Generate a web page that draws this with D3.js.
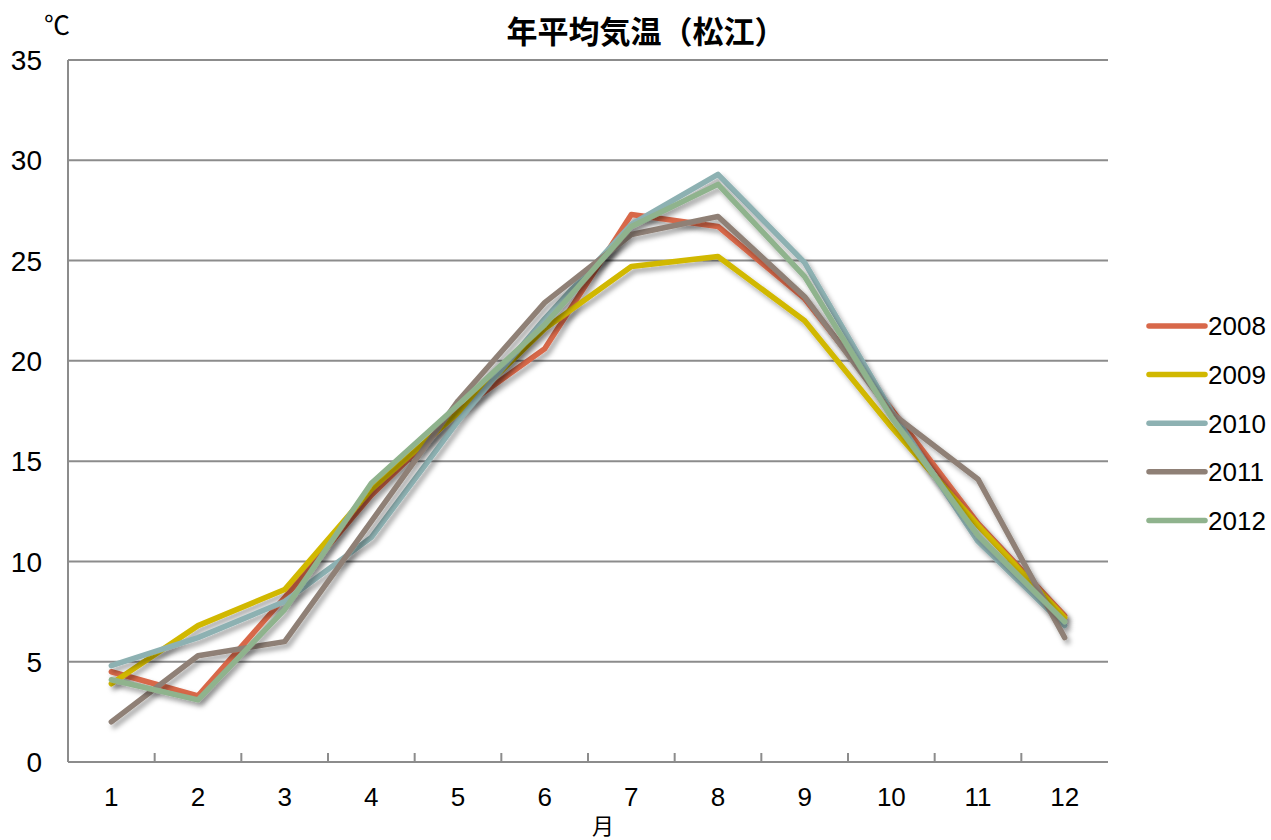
<!DOCTYPE html>
<html>
<head>
<meta charset="utf-8">
<script src="https://cdn.jsdelivr.net/npm/d3@7"></script>
<style>
  html, body { margin: 0; padding: 0; background: #fff; }
  svg { display: block; }
  .num { font-family: "Liberation Sans Narrow", "Liberation Sans", sans-serif; fill: #000; }
</style>
</head>
<body>
<svg id="chart" width="1271" height="840"></svg>
<script>
// Monthly mean temperature, Matsue (℃)
const months = ["1", "2", "3", "4", "5", "6", "7", "8", "9", "10", "11", "12"];
const years = ["2008", "2009", "2010", "2011", "2012"];
const temps2008 = [4.5, 3.3, 8.2, 13.3, 17.5, 20.6, 27.3, 26.7, 23.1, 17.6, 11.9, 7.3];
const temps2009 = [3.9, 6.8, 8.6, 13.6, 17.4, 21.6, 24.7, 25.2, 22.0, 16.7, 11.8, 7.2];
const temps2010 = [4.8, 6.2, 8.0, 11.2, 17.0, 22.1, 26.8, 29.3, 24.9, 17.5, 11.0, 6.8];
const temps2011 = [2.0, 5.3, 6.0, 12.0, 18.0, 22.9, 26.3, 27.2, 23.2, 17.4, 14.1, 6.2];
const temps2012 = [4.1, 3.1, 7.6, 13.9, 17.8, 21.8, 26.7, 28.8, 24.2, 17.2, 11.3, 7.0];
const yTicks = [0, 5, 10, 15, 20, 25, 30, 35];
const seriesColors = ["#d8684a", "#d1b800", "#8db1b2", "#8f8076", "#8fb38d"];

const series = years.map((y, i) => ({
  year: y,
  color: seriesColors[i],
  values: [temps2008, temps2009, temps2010, temps2011, temps2012][i]
}));

const svg = d3.select("#chart");
const plot = { left: 68, right: 1108, top: 60, bottom: 762 };

const x = d3.scaleBand().domain(months).range([plot.left, plot.right]);
const y = d3.scaleLinear().domain([0, 35]).range([plot.bottom, plot.top]);

// soft drop shadow under each line
const defs = svg.append("defs");
const f = defs.append("filter").attr("id", "shadow")
  .attr("x", "-5%").attr("y", "-5%").attr("width", "110%").attr("height", "110%");
f.append("feDropShadow").attr("dx", 3).attr("dy", 4).attr("stdDeviation", 2.5)
  .attr("flood-color", "#000").attr("flood-opacity", 0.35);

// horizontal gridlines
svg.append("g").selectAll("line").data(yTicks.filter(d => d > 0)).join("line")
  .attr("x1", plot.left).attr("x2", plot.right)
  .attr("y1", d => y(d)).attr("y2", d => y(d))
  .attr("stroke", "#8c8c8c").attr("stroke-width", 2);

// y axis labels
svg.append("g").selectAll("text").data(yTicks).join("text")
  .attr("class", "num")
  .attr("x", 42).attr("y", d => y(d))
  .attr("text-anchor", "end").attr("dy", "0.36em")
  .attr("font-size", 28)
  .text(d => d);

// axes lines
svg.append("line")
  .attr("x1", plot.left).attr("x2", plot.left)
  .attr("y1", plot.top).attr("y2", plot.bottom)
  .attr("stroke", "#8c8c8c").attr("stroke-width", 2);
const xAxis = d3.axisBottom(x).tickSize(0).tickPadding(0);
const gx = svg.append("g").attr("transform", `translate(0,${plot.bottom})`).call(xAxis);
gx.select(".domain").attr("stroke", "#8c8c8c").attr("stroke-width", 2)
  .attr("d", `M${plot.left},0H${plot.right}`);
gx.selectAll(".tick text")
  .attr("class", "num")
  .attr("y", 35).attr("dy", "0.36em")
  .attr("font-size", 26)
  .attr("font-family", "'Liberation Sans Narrow', 'Liberation Sans', sans-serif")
  .attr("fill", "#000");

// category boundary tick marks (inside)
svg.append("g").selectAll("line").data(months.slice(1)).join("line")
  .attr("x1", d => x(d)).attr("x2", d => x(d))
  .attr("y1", plot.bottom).attr("y2", plot.bottom - 9)
  .attr("stroke", "#8c8c8c").attr("stroke-width", 2);

// series lines
const line = d3.line()
  .x((d, i) => x(months[i]) + x.bandwidth() / 2)
  .y(d => y(d));

svg.append("g").selectAll("path").data(series).join("path")
  .attr("d", d => line(d.values))
  .attr("fill", "none")
  .attr("stroke", d => d.color)
  .attr("stroke-width", 5.5)
  .attr("stroke-linejoin", "round")
  .attr("stroke-linecap", "round")
  .attr("filter", "url(#shadow)");

// title and axis units
svg.append("text")
  .attr("x", 646).attr("y", 43)
  .attr("text-anchor", "middle")
  .attr("font-family", "'Noto Sans CJK JP', sans-serif")
  .attr("font-weight", "bold")
  .attr("font-size", 31)
  .text("年平均気温（松江）");

svg.append("text")
  .attr("x", 44).attr("y", 35)
  .attr("font-family", "'Liberation Sans Narrow', 'Noto Sans CJK JP', sans-serif")
  .attr("font-size", 26)
  .text("℃");

svg.append("text")
  .attr("x", 603).attr("y", 834)
  .attr("text-anchor", "middle")
  .attr("font-family", "'Noto Sans CJK JP', sans-serif")
  .attr("font-size", 22)
  .text("月");

// legend
const legend = svg.append("g").selectAll("g").data(series).join("g")
  .attr("transform", (d, i) => `translate(1149,${326 + i * 48.6})`);
legend.append("line")
  .attr("x1", 0).attr("x2", 56).attr("y1", 0).attr("y2", 0)
  .attr("stroke", d => d.color).attr("stroke-width", 5.5).attr("stroke-linecap", "round");
legend.append("text")
  .attr("class", "num")
  .attr("x", 59).attr("dy", "0.36em")
  .attr("font-size", 26)
  .text(d => d.year);
</script>
</body>
</html>
